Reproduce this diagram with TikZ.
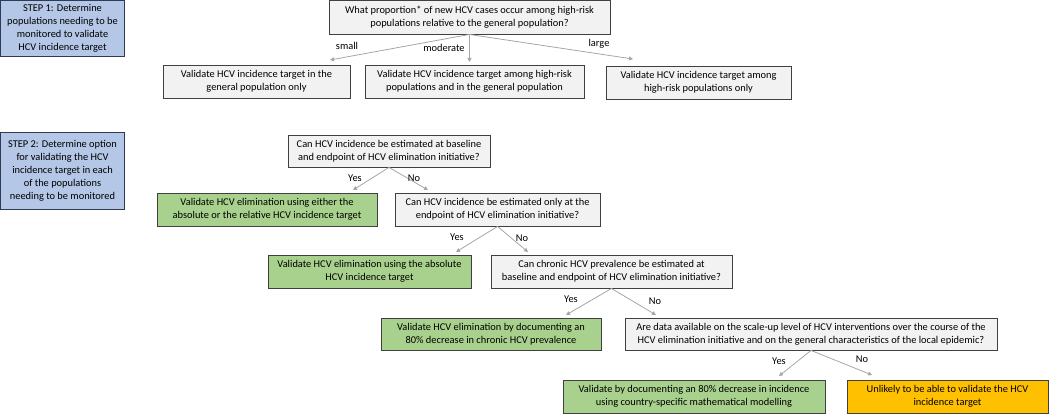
\documentclass[tikz,border=0pt]{standalone}
\usepackage{fontspec}
\setmainfont{Carlito}
\usetikzlibrary{arrows.meta}
\definecolor{stepfill}{HTML}{B4C7E7}
\definecolor{stepdraw}{HTML}{2F3B55}
\definecolor{qfill}{HTML}{F2F2F2}
\definecolor{boxdraw}{HTML}{404040}
\definecolor{gfill}{HTML}{A9D18E}
\definecolor{ofill}{HTML}{FFC000}
\definecolor{arr}{HTML}{A6A6A6}
\tikzset{
  base/.style={draw=boxdraw, line width=0.9pt, inner sep=0pt, align=center,
    font=\fontsize{10.4}{13}\selectfont},
  stepbox/.style={base, draw=stepdraw, fill=stepfill},
  qbox/.style={base, fill=qfill},
  gbox/.style={base, fill=gfill},
  obox/.style={base, fill=ofill},
  conn/.style={draw=arr, line width=0.8pt, -{Triangle[length=4pt,width=4pt]}},
  lbl/.style={inner sep=0pt, font=\fontsize{10.4}{13}\selectfont}
}
\begin{document}
\begin{tikzpicture}[x=1pt,y=-1pt]
\useasboundingbox (0,0) rectangle (1050,414);
% step boxes
\node[stepbox, minimum width=124pt, minimum height=56pt] (s1) at (62.5,28.5)
  {STEP 1: Determine\\populations needing to be\\monitored to validate\\HCV incidence target};
\node[stepbox, minimum width=124pt, minimum height=77pt] (s2) at (62.5,170.5)
  {STEP 2: Determine option\\for validating the HCV\\incidence target in each\\of the populations\\needing to be monitored};
% step 1
\node[qbox, minimum width=281pt, minimum height=33.5pt] (q1) at (469.5,17.25)
  {What proportion* of new HCV cases occur among high-risk\\populations relative to the general population?};
\node[qbox, minimum width=187pt, minimum height=33pt] (a1) at (256.5,81.5)
  {Validate HCV incidence target in the\\general population only};
\node[qbox, minimum width=219pt, minimum height=33pt] (a2) at (474.5,81.5)
  {Validate HCV incidence target among high-risk\\populations and in the general population};
\node[qbox, minimum width=185pt, minimum height=33pt] (a3) at (698.5,82.5)
  {Validate HCV incidence target among\\high-risk populations only};
\coordinate (e1) at (330,60);
\coordinate (e2) at (469.5,62);
\coordinate (e3) at (633,59);
\draw[conn] (q1.south) -- (e1);
\draw[conn] (q1.south) -- (e2);
\draw[conn] (q1.south) -- (e3);
\node[lbl] (l1) at (347,46) {small};
\node[lbl] (l2) at (444,48) {moderate};
\node[lbl] (l3) at (599,44) {large};
% step 2
\node[qbox, minimum width=202pt, minimum height=32pt] (q2) at (389,151)
  {Can HCV incidence be estimated at baseline\\and endpoint of HCV elimination initiative?};
\node[gbox, minimum width=220pt, minimum height=33pt] (g1) at (267,209.5)
  {Validate HCV elimination using either the\\absolute or the relative HCV incidence target};
\node[qbox, minimum width=205pt, minimum height=33pt] (q3) at (497.5,209.5)
  {Can HCV incidence be estimated only at the\\endpoint of HCV elimination initiative?};
\node[gbox, minimum width=203pt, minimum height=33pt] (g2) at (369.5,271.5)
  {Validate HCV elimination using the absolute\\HCV incidence target};
\node[qbox, minimum width=241pt, minimum height=33pt] (q4) at (611.5,271.5)
  {Can chronic HCV prevalence be estimated at\\baseline and endpoint of HCV elimination initiative?};
\node[gbox, minimum width=220pt, minimum height=32pt] (g3) at (491,334)
  {Validate HCV elimination by documenting an\\80\% decrease in chronic HCV prevalence};
\node[qbox, minimum width=372pt, minimum height=32pt] (q5) at (811,334)
  {Are data available on the scale-up level of HCV interventions over the course of the\\HCV elimination initiative and on the general characteristics of the local epidemic?};
\node[gbox, minimum width=262pt, minimum height=33pt] (g4) at (694,396.5)
  {Validate by documenting an 80\% decrease in incidence\\using country-specific mathematical modelling};
\node[obox, minimum width=201pt, minimum height=33pt] (o1) at (947.5,396.5)
  {Unlikely to be able to validate the HCV\\incidence target};
% connectors step 2
\coordinate (y2) at (353,190);
\coordinate (n2) at (428,190);
\draw[conn] (q2.south) -- (y2);
\draw[conn] (q2.south) -- (n2);
\node[lbl] (ly2) at (355,178) {Yes};
\node[lbl] (ln2) at (414,178) {No};
\coordinate (y3) at (456,252);
\coordinate (n3) at (528,252);
\draw[conn] (q3.south) -- (y3);
\draw[conn] (q3.south) -- (n3);
\node[lbl] (ly3) at (457,237) {Yes};
\node[lbl] (ln3) at (522,238) {No};
\coordinate (y4) at (566,315);
\coordinate (n4) at (656,315);
\draw[conn] (q4.south) -- (y4);
\draw[conn] (q4.south) -- (n4);
\node[lbl] (ly4) at (571,299) {Yes};
\node[lbl] (ln4) at (655,301) {No};
\coordinate (y5) at (779,376);
\coordinate (n5) at (872,375);
\draw[conn] (q5.south) -- (y5);
\draw[conn] (q5.south) -- (n5);
\node[lbl] (ly5) at (779,361) {Yes};
\node[lbl] (ln5) at (862,359) {No};
\end{tikzpicture}
\end{document}
